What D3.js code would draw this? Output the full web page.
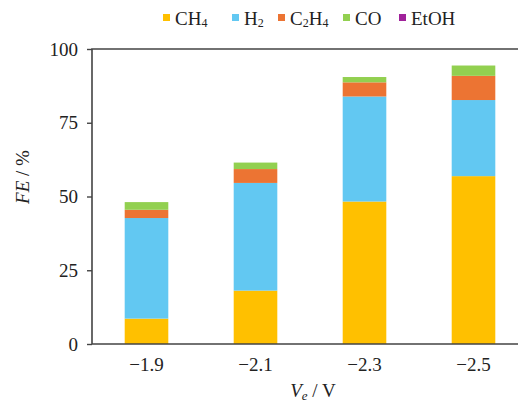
<!DOCTYPE html>
<html>
<head>
<meta charset="utf-8">
<script src="https://cdn.jsdelivr.net/npm/d3@7"></script>
<style>
  body { margin: 0; background: #fff; }
  svg text { font-family: "Liberation Serif", "Times New Roman", serif; fill: #222; }
</style>
</head>
<body>
<div id="chart"></div>
<script>
// potentials (x categories)
const categories = ["−1.9", "−2.1", "−2.3", "−2.5"];
// FE values per product, %
const ch4 = [8.6, 18.1, 48.3, 56.9];
const h2 = [34.1, 36.5, 35.6, 25.8];
const c2h4 = [2.8, 4.7, 4.8, 8.2];
const co = [2.6, 2.2, 1.8, 3.5];
const etoh = [0, 0, 0, 0];
const yTicks = [0, 25, 50, 75, 100];

const seriesNames = ["CH4", "H2", "C2H4", "CO", "EtOH"];
const seriesValues = [ch4, h2, c2h4, co, etoh];
const colors = ["#FFC000", "#62C8F2", "#EC7433", "#92D050", "#A0219A"];

const W = 518, H = 406;
const M = { left: 92, top: 49, right: 528, bottom: 344 };

const svg = d3.select("#chart").append("svg")
  .attr("width", W).attr("height", H)
  .attr("xmlns", "http://www.w3.org/2000/svg");

const x = d3.scaleBand().domain(categories)
  .range([M.left, M.right]).paddingInner(0.6).paddingOuter(0.3);
const y = d3.scaleLinear().domain([0, 100]).range([M.bottom, M.top]);

const rows = categories.map((c, i) => {
  const r = { cat: c };
  seriesNames.forEach((s, j) => r[s] = seriesValues[j][i]);
  return r;
});
const stack = d3.stack().keys(seriesNames)(rows);

svg.append("g").selectAll("g").data(stack).join("g")
  .attr("fill", (d, i) => colors[i])
  .selectAll("rect").data(d => d).join("rect")
  .attr("x", d => x(d.data.cat))
  .attr("width", x.bandwidth())
  .attr("y", d => y(d[1]))
  .attr("height", d => y(d[0]) - y(d[1]));

// frame
svg.append("path")
  .attr("d", `M${M.right},${M.top} H${M.left} V${M.bottom} H${M.right}`)
  .attr("fill", "none").attr("stroke", "#444").attr("stroke-width", 1.6);

// y axis
const yAxis = svg.append("g").attr("transform", `translate(${M.left},0)`)
  .call(d3.axisLeft(y).tickValues(yTicks).tickSize(5).tickPadding(9));
yAxis.select(".domain").remove();
yAxis.selectAll("line").attr("stroke", "#444").attr("stroke-width", 1.4);
yAxis.selectAll("text").style("font-size", "19px")
  .style("font-family", "Liberation Serif").attr("fill", "#222");

// x axis
const xAxis = svg.append("g").attr("transform", `translate(0,${M.bottom})`)
  .call(d3.axisBottom(x).tickSize(0).tickPadding(14));
xAxis.select(".domain").remove();
xAxis.selectAll("text").style("font-size", "19px")
  .style("font-family", "Liberation Serif").attr("fill", "#222");

// axis titles
const yt = svg.append("text")
  .attr("transform", "translate(29,177) rotate(-90)")
  .attr("text-anchor", "middle").style("font-size", "19px");
yt.append("tspan").attr("font-style", "italic").text("FE");
yt.append("tspan").text(" / %");

const xt = svg.append("text").attr("x", 313).attr("y", 397)
  .attr("text-anchor", "middle").style("font-size", "19px");
xt.append("tspan").attr("font-style", "italic").text("V");
xt.append("tspan").attr("font-style", "italic").attr("font-size", "13px")
  .attr("dy", 3).text("e");
xt.append("tspan").attr("dy", -3).text(" / V");

// legend
const legendX = [163, 232, 278, 343, 399];
const labelParts = [
  [["CH", 0], ["4", 1]],
  [["H", 0], ["2", 1]],
  [["C", 0], ["2", 1], ["H", 0], ["4", 1]],
  [["CO", 0]],
  [["EtOH", 0]]
];
const lg = svg.append("g").selectAll("g").data(seriesNames).join("g")
  .attr("transform", (d, i) => `translate(${legendX[i]},0)`);
lg.append("rect").attr("x", 0).attr("y", 14).attr("width", 7).attr("height", 7)
  .attr("fill", (d, i) => colors[i]);
lg.each(function (d, i) {
  const t = d3.select(this).append("text").attr("x", 12).attr("y", 25)
    .style("font-size", "19px");
  let sub = false;
  labelParts[i].forEach(([s, isSub]) => {
    const ts = t.append("tspan").text(s);
    if (isSub) { ts.attr("font-size", "12px"); if (!sub) { ts.attr("dy", 2); sub = true; } }
    else if (sub) { ts.attr("dy", -2); sub = false; }
  });
});
</script>
</body>
</html>
